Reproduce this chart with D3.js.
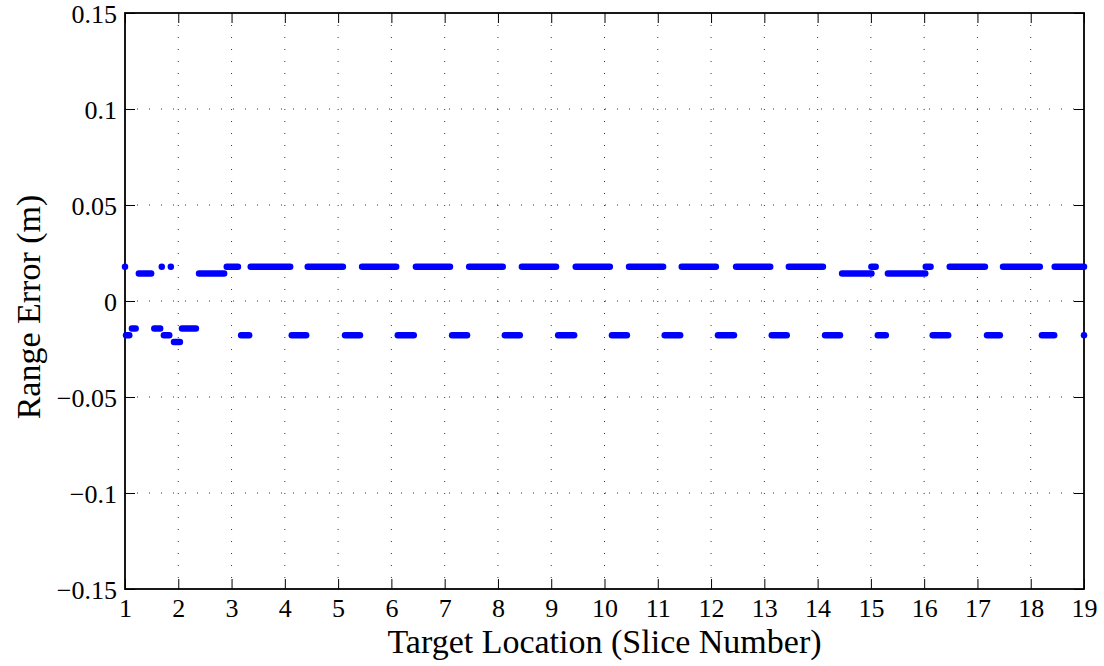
<!DOCTYPE html>
<html>
<head>
<meta charset="utf-8">
<script src="https://cdn.jsdelivr.net/npm/d3@7"></script>
<style>
  body { margin: 0; background: #fff; }
  svg { display: block; font-family: "Liberation Serif", "DejaVu Serif", serif; }
</style>
</head>
<body>
<svg id="chart"></svg>
<script>
// Range error levels (m)
const levels = [0.0178, 0.0143, -0.0143, -0.0178, -0.0213];

// Runs of points at each level, as [first slice, last slice]
const runsA = [[1.0, 1.0], [1.69, 1.69], [1.86, 1.86], [2.91, 3.12], [3.36, 4.10], [4.43, 5.09],
  [5.45, 6.09], [6.46, 7.10], [7.46, 8.09], [8.45, 9.09], [9.46, 10.10], [10.46, 11.10],
  [11.45, 12.09], [12.47, 13.11], [13.46, 14.10], [15.01, 15.09], [16.03, 16.12],
  [16.48, 17.14], [17.48, 18.17], [18.45, 19.0]];
const runsB = [[1.26, 1.49], [2.39, 2.86], [14.46, 15.01], [15.32, 16.02]];
const runsC = [[1.13, 1.20], [1.55, 1.66], [2.07, 2.33]];
const runsD = [[1.02, 1.08], [1.73, 1.83], [3.18, 3.33], [4.13, 4.40], [5.13, 5.41], [6.12, 6.42],
  [7.14, 7.42], [8.13, 8.41], [9.13, 9.43], [10.14, 10.42], [11.13, 11.42], [12.13, 12.43],
  [13.14, 13.42], [14.14, 14.42], [15.13, 15.28], [16.16, 16.45], [17.18, 17.42],
  [18.21, 18.44], [19.0, 19.0]];
const runsE = [[1.92, 2.03]];
const runs = [runsA, runsB, runsC, runsD, runsE];

const xTicks = d3.range(1, 20);
const yTicks = [-0.15, -0.1, -0.05, 0, 0.05, 0.1, 0.15];
const yTickLabels = ["\u22120.15", "\u22120.1", "\u22120.05", "0", "0.05", "0.1", "0.15"];

const config = {
  width: 1104, height: 666,
  margin: {top: 13, right: 20, bottom: 77, left: 125}
};
const w = config.width - config.margin.left - config.margin.right;
const h = config.height - config.margin.top - config.margin.bottom;

const svg = d3.select('#chart')
  .attr('width', config.width)
  .attr('height', config.height);

const chart = svg.append('g')
  .attr('transform', `translate(${config.margin.left},${config.margin.top})`);

const xScale = d3.scaleLinear().domain([1, 19]).range([0, w]);
const yScale = d3.scaleLinear().domain([-0.15, 0.15]).range([h, 0]);

// dotted grid
chart.append('g').selectAll('line')
  .data(xTicks.slice(1, -1))
  .join('line')
  .attr('x1', d => xScale(d)).attr('x2', d => xScale(d))
  .attr('y1', 0).attr('y2', h)
  .attr('stroke', '#333').attr('stroke-width', 1)
  .attr('stroke-dasharray', '1,11');
chart.append('g').selectAll('line')
  .data(yTicks.slice(1, -1))
  .join('line')
  .attr('x1', 0).attr('x2', w)
  .attr('y1', d => yScale(d)).attr('y2', d => yScale(d))
  .attr('stroke', '#333').attr('stroke-width', 1)
  .attr('stroke-dasharray', '1,11');

// axes with inward ticks on all four sides
const tickLen = 10;
const xAxisB = d3.axisBottom(xScale).tickValues(xTicks).tickSizeInner(-tickLen).tickSizeOuter(0).tickPadding(10);
const xAxisT = d3.axisTop(xScale).tickValues(xTicks).tickSizeInner(-tickLen).tickSizeOuter(0).tickFormat('');
const yAxisL = d3.axisLeft(yScale).tickValues(yTicks).tickSizeInner(-tickLen).tickSizeOuter(0).tickPadding(8)
  .tickFormat((d, i) => yTickLabels[i]);
const yAxisR = d3.axisRight(yScale).tickValues(yTicks).tickSizeInner(-tickLen).tickSizeOuter(0).tickFormat('');

const gxb = chart.append('g').attr('transform', `translate(0,${h})`).call(xAxisB);
const gxt = chart.append('g').call(xAxisT);
const gyl = chart.append('g').call(yAxisL);
const gyr = chart.append('g').attr('transform', `translate(${w},0)`).call(yAxisR);

[gxb, gxt, gyl, gyr].forEach(g => {
  g.attr('font-family', null).attr('font-size', null);
  g.select('.domain').remove();
  g.selectAll('.tick line').attr('stroke', '#000').attr('stroke-width', 1);
  g.selectAll('text').attr('fill', '#000').style('font-size', '26px')
    .style('font-family', '"Liberation Serif", serif');
});
gyl.selectAll('text').attr('dy', '0.35em');

chart.append('rect')
  .attr('width', w).attr('height', h)
  .attr('fill', 'none').attr('stroke', '#000').attr('stroke-width', 1.8);

// data runs
runs.forEach((list, i) => {
  chart.append('g').selectAll('line')
    .data(list)
    .join('line')
    .attr('x1', d => xScale(d[0])).attr('x2', d => xScale(d[1]))
    .attr('y1', yScale(levels[i])).attr('y2', yScale(levels[i]))
    .attr('stroke', '#0000ff')
    .attr('stroke-width', 6.5)
    .attr('stroke-linecap', 'round');
});

// axis titles
svg.append('text')
  .attr('x', config.margin.left + w / 2)
  .attr('y', 653)
  .attr('text-anchor', 'middle')
  .style('font-size', '34px')
  .text('Target Location (Slice Number)');

svg.append('text')
  .attr('transform', `translate(40,${config.margin.top + h / 2 + 6}) rotate(-90)`)
  .attr('text-anchor', 'middle')
  .style('font-size', '34px')
  .text('Range Error (m)');
</script>
</body>
</html>
